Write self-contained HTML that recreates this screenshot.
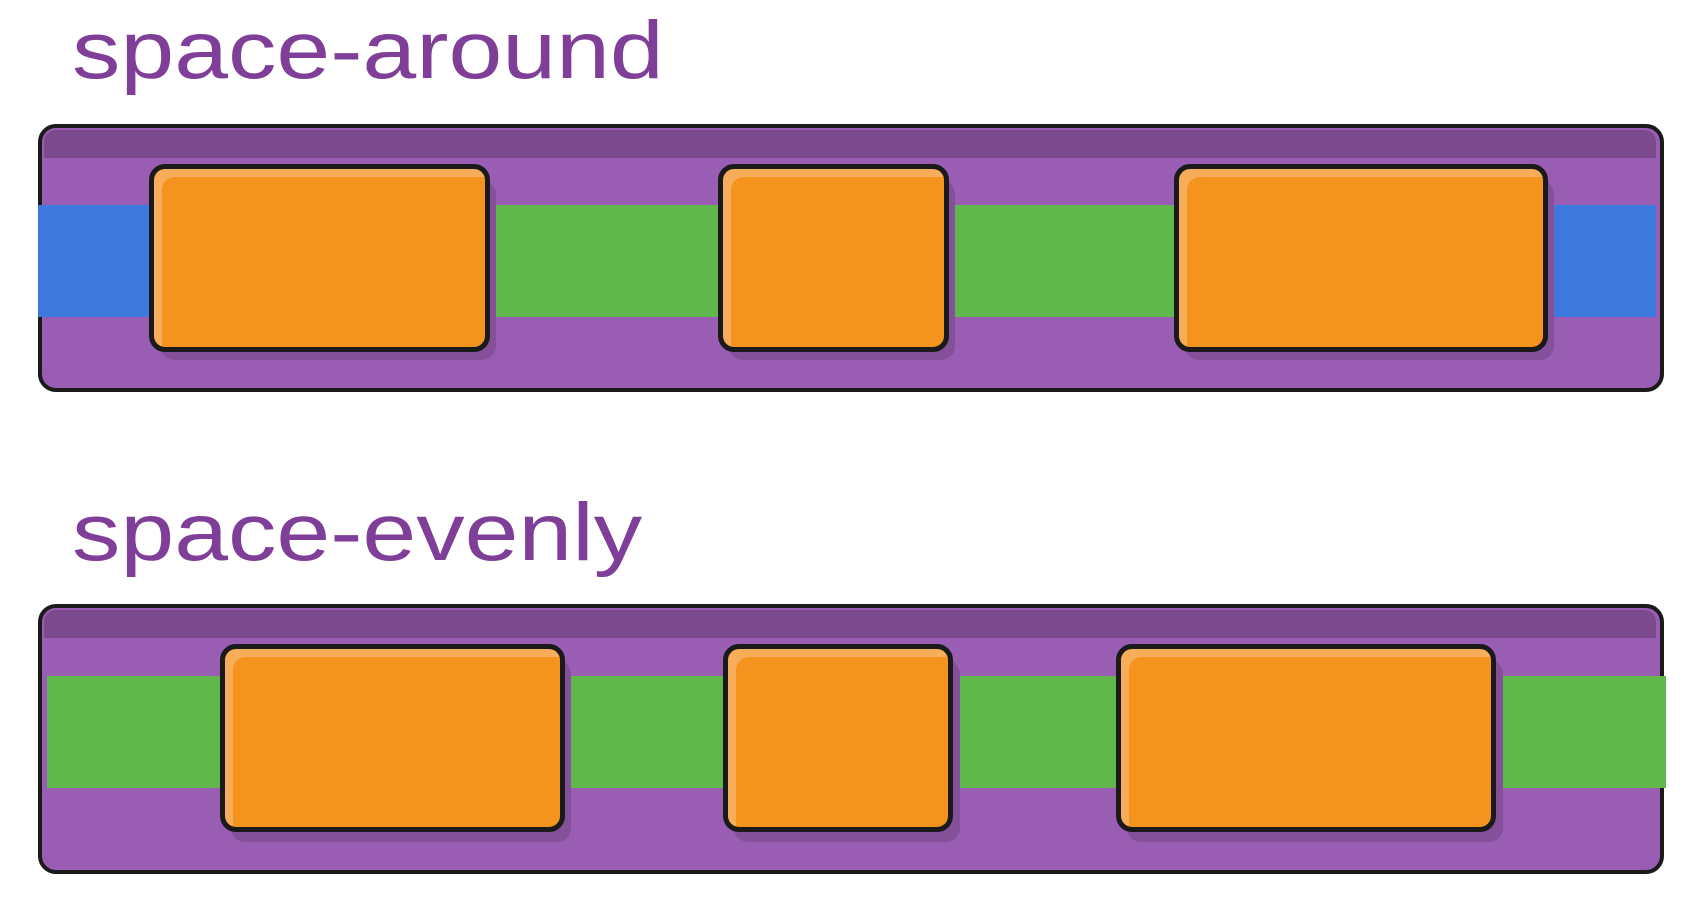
<!DOCTYPE html>
<html><head><meta charset="utf-8"><style>
body{margin:0;width:1702px;height:918px;background:#fff;position:relative;overflow:hidden;font-family:"Liberation Sans",sans-serif}
.a{position:absolute}
.title{color:#7f3f98;font-size:82px;line-height:1;transform-origin:0 0;transform:scaleX(1.18)}
.box{background:#9a5db4;border:4px solid #1a1a1a;border-radius:18px;box-sizing:border-box}
.stripe{background:#7b4a8c}
.item{background:#f5931f;border:5px solid #1a1a1a;border-radius:16px;box-sizing:border-box;box-shadow:inset 10px 10px 0 -2px #f7ad5a;}
.shadow{background:#85509a;border-radius:14px}
</style></head><body>
<div class="a title" style="left:72px;top:10px">space-around</div>
<div class="a box" style="left:38px;top:124px;width:1626px;height:268px"></div>
<div class="a stripe" style="left:44px;top:130px;width:1612px;height:28px;border-radius:12px 12px 0 0"></div>
<div class="a" style="left:38px;top:205px;width:112px;height:112px;background:#3d78dc"></div>
<div class="a" style="left:1546px;top:205px;width:110px;height:112px;background:#3d78dc"></div>
<div class="a" style="left:489px;top:205px;width:230px;height:112px;background:#60b74c"></div>
<div class="a" style="left:948px;top:205px;width:226px;height:112px;background:#60b74c"></div>
<div class="a shadow" style="left:160px;top:180px;width:336px;height:180px"></div>
<div class="a shadow" style="left:729px;top:180px;width:226px;height:180px"></div>
<div class="a shadow" style="left:1185px;top:180px;width:369px;height:180px"></div>
<div class="a item" style="left:149px;top:164px;width:341px;height:188px"></div>
<div class="a item" style="left:718px;top:164px;width:231px;height:188px"></div>
<div class="a item" style="left:1174px;top:164px;width:374px;height:188px"></div>

<div class="a title" style="left:72px;top:492px">space-evenly</div>
<div class="a box" style="left:38px;top:604px;width:1626px;height:270px"></div>
<div class="a stripe" style="left:44px;top:610px;width:1612px;height:28px;border-radius:12px 12px 0 0"></div>
<div class="a" style="left:47px;top:676px;width:1619px;height:112px;background:#60b74c"></div>
<div class="a shadow" style="left:231px;top:660px;width:340px;height:182px"></div>
<div class="a shadow" style="left:734px;top:660px;width:226px;height:182px"></div>
<div class="a shadow" style="left:1127px;top:660px;width:376px;height:182px"></div>
<div class="a item" style="left:220px;top:644px;width:345px;height:188px"></div>
<div class="a item" style="left:723px;top:644px;width:230px;height:188px"></div>
<div class="a item" style="left:1116px;top:644px;width:380px;height:188px"></div>
</body></html>
